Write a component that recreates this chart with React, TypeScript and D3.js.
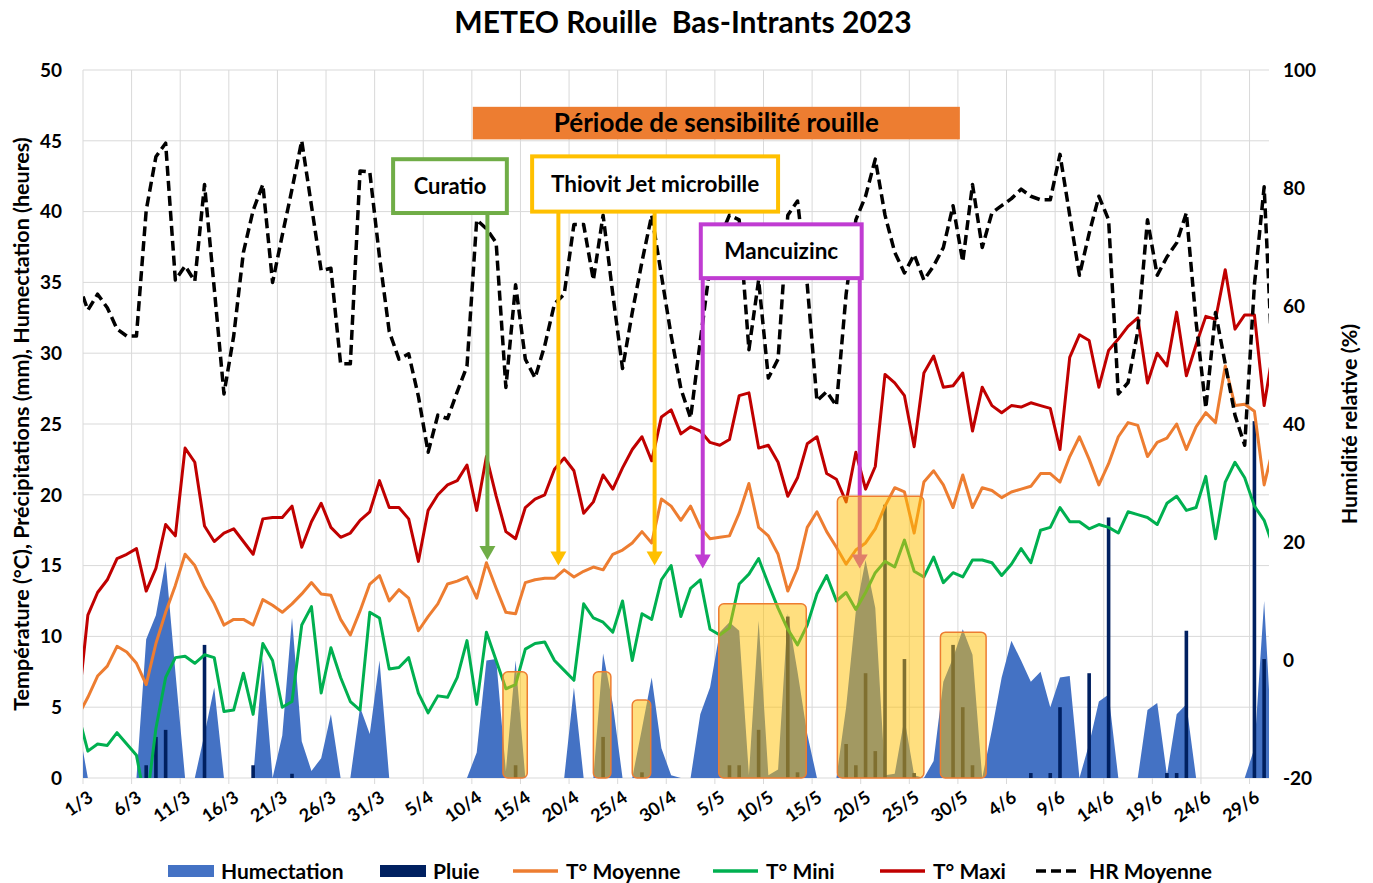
import React, { useEffect, useRef } from "react";
import * as d3 from "d3";

// daily series, first value = 28/2, last value = 1/7
const tMax = [
  5.0,
  11.5, 13.1, 14.0, 15.5, 15.8, 16.2, 13.2, 14.8, 17.9, 17.1, 23.3, 22.3, 17.8, 16.7, 17.3, 17.6, 16.7, 15.8, 18.3, 18.4, 18.4, 19.2, 16.3, 18.1, 19.4, 17.7, 17.0, 17.3, 18.2, 18.8, 21.0,
  19.1, 19.1, 18.3, 15.3, 18.9, 20.0, 20.7, 21.0, 22.1, 18.9, 22.7, 19.9, 17.4, 16.9, 19.1, 19.7, 20.0, 21.8, 22.6, 21.7, 18.7, 19.5, 21.4, 20.4, 21.9, 23.2, 24.1, 22.4, 25.5, 26.0,
  24.3, 24.8, 24.5, 23.7, 23.5, 23.9, 27.0, 27.2, 23.3, 23.5, 22.3, 19.9, 21.2, 23.6, 24.1, 21.5, 21.1, 19.5, 23.0, 20.4, 22.0, 28.5, 27.9, 27.0, 23.4, 28.6, 29.8, 27.6, 27.7, 28.6, 24.5,
  27.6, 26.3, 25.8, 26.3, 26.2, 26.5, 26.3, 26.1, 23.2, 29.7, 31.3, 30.9, 27.6, 30.2, 31.0, 31.9, 32.5, 27.9, 30.0, 29.1, 32.9, 28.4, 30.6, 32.6, 32.4, 35.9, 31.7, 32.7, 32.7, 26.3,
  30.5,
];
const tMoy = [
  4.4,
  5.7, 7.2, 7.9, 9.3, 8.9, 8.1, 6.6, 9.5, 11.7, 13.6, 15.8, 15.0, 13.5, 12.3, 10.8, 11.2, 11.2, 10.8, 12.6, 12.2, 11.7, 12.3, 13.0, 13.8, 13.0, 12.9, 11.2, 10.1, 11.8, 13.7, 14.3,
  12.5, 13.3, 12.7, 10.4, 11.4, 12.3, 13.7, 13.9, 14.2, 12.7, 15.2, 13.4, 11.7, 11.6, 13.8, 14.0, 14.1, 14.1, 14.7, 14.2, 14.6, 14.9, 14.7, 15.8, 16.1, 16.6, 17.4, 16.6, 19.7, 19.2,
  18.2, 19.2, 17.7, 16.9, 17.0, 17.1, 18.7, 20.8, 17.7, 17.1, 15.8, 13.2, 14.8, 17.7, 18.8, 17.4, 16.3, 15.1, 16.1, 16.6, 17.6, 19.2, 20.5, 20.2, 17.3, 20.9, 21.7, 20.7, 19.1, 21.4, 19.1,
  20.5, 20.3, 19.8, 20.2, 20.4, 20.6, 21.5, 21.5, 20.9, 22.7, 24.1, 22.5, 20.7, 22.2, 24.1, 25.1, 24.9, 22.7, 23.7, 24.0, 25.0, 23.2, 24.8, 25.8, 25.1, 29.1, 26.3, 26.4, 25.9, 20.7,
  23.5,
];
const tMin = [
  4.5,
  1.9, 2.4, 2.3, 3.2, 2.4, 1.6, -2.0, 3.5, 7.1, 8.5, 8.6, 8.1, 8.7, 8.5, 4.7, 4.8, 7.4, 4.5, 9.5, 8.3, 5.0, 5.4, 10.8, 12.1, 6.0, 9.2, 7.1, 5.4, 4.8, 11.7, 11.3,
  7.7, 7.8, 8.5, 6.0, 4.6, 5.8, 5.7, 7.1, 9.7, 5.2, 10.3, 8.3, 6.3, 6.6, 9.1, 9.5, 9.6, 8.3, 7.6, 6.9, 12.3, 11.3, 11.0, 10.3, 12.5, 8.3, 11.6, 11.2, 14.0, 15.0,
  11.4, 13.4, 14.0, 10.5, 10.1, 10.6, 13.7, 14.4, 15.5, 13.7, 12.0, 10.5, 9.4, 10.8, 13.0, 14.3, 12.5, 13.1, 11.9, 13.1, 14.5, 15.3, 14.9, 16.8, 14.6, 14.2, 15.6, 13.8, 14.5, 14.2, 15.4,
  15.4, 15.2, 14.3, 15.1, 16.2, 15.2, 17.5, 17.7, 19.1, 18.1, 18.1, 17.6, 17.9, 17.7, 17.3, 18.8, 18.6, 18.4, 17.9, 19.4, 19.9, 18.9, 19.1, 21.3, 16.9, 20.9, 22.3, 21.2, 19.2, 18.2,
  16.2,
];
const hrMoy = [
  64,
  59.3, 62.0, 59.7, 56.1, 54.9, 54.9, 76.2, 85.3, 87.6, 64.4, 66.8, 64.2, 80.6, 63, 45.1, 54.9, 69.1, 76.2, 80.6, 64.0, 72, 79.8, 88.0, 77, 66.0, 66.4, 50.2, 50.2, 82.9, 82.7, 68.3,
  55.7, 51.0, 51.9, 44.7, 35.2, 41.5, 40.9, 45.5, 49.8, 74.6, 73.1, 70.7, 46.2, 63.6, 51.0, 47.8, 53.3, 60.4, 62.0, 73.8, 73.8, 64.4, 75.4, 62.0, 49.4, 58.9, 67.5, 75.4, 65.2, 55,
  46, 41, 54.1, 66.8, 71.5, 75.4, 74.6, 52.6, 64.4, 47.8, 51.0, 75.4, 77.8, 63.6, 43.9, 45.5, 43.1, 62.0, 74.6, 78.6, 84.9, 75.4, 69.1, 65.6, 68.7, 64.4, 66.8, 69.9, 77.0, 67.5, 80.6,
  69.9, 75.8, 77.0, 78.2, 79.8, 78.6, 78.0, 78.0, 85.7, 75.4, 65.2, 72.3, 78.6, 74.6, 45.1, 47.0, 55.7, 74.6, 65.2, 68.3, 70.7, 75.8, 57.3, 42.7, 58.9, 50.2, 41.5, 36.4, 63.6, 80.2,
  45,
];
const humectation = [
  3.8,
  0, 0, 0, 0, 0, 0, 9.8, 11.5, 15.3, 7.5, 0, 0, 3.1, 6.4, 0, 0, 0, 0, 8.5, 0, 3.0, 11.3, 2.6, 0.5, 1.4, 4.5, 0, 0, 5.0, 3.1, 8.3,
  0, 0, 0, 0, 0, 0, 0, 0, 0, 1.8, 8.3, 8.4, 0.5, 8.3, 0, 0, 0, 0, 0, 6.4, 0, 0, 8.8, 5.2, 0, 0, 3.5, 7.1, 2.1, 0.2,
  0, 0, 4.5, 6.4, 10.3, 11.0, 10.4, 0.2, 11.1, 0.2, 0.6, 11.6, 7.5, 3.1, 0, 0, 0, 5.0, 11.8, 15.4, 12.0, 0.2, 0.3, 4.2, 0.2, 0, 1.2, 6.8, 8.5, 10.5, 8.7,
  0, 3.4, 7.1, 9.7, 8.3, 6.8, 7.5, 5.0, 7.1, 7.2, 0, 2.4, 5.4, 5.9, 0, 0, 0, 4.8, 5.3, 0.2, 4.5, 5.2, 0, 0, 0, 0, 0, 0, 2.1, 12.5,
  0,
];
const pluie = [
  0,
  0, 0, 0, 0, 0, 0, 0.9, 2.9, 3.4, 0, 0, 0, 9.4, 0, 0, 0, 0, 0.9, 0, 0, 0, 0.3, 0, 0, 0, 0, 0, 0, 0, 0, 0,
  0, 0, 0, 0, 0, 0, 0, 0, 0, 0, 0, 0, 0, 0.9, 0, 0, 0, 0, 0, 0, 0, 0, 2.9, 0, 0, 0, 0.4, 0, 0, 0,
  0, 0, 0, 0, 0, 0.9, 0.9, 0, 3.4, 0, 0, 11.4, 0.4, 0, 0, 0, 0, 2.4, 0.9, 7.4, 1.9, 19.3, 0, 8.4, 0.35, 0, 0, 0, 9.4, 5.0, 0.9,
  0, 0, 0, 0, 0, 0.35, 0, 0.35, 5.0, 0, 0, 7.4, 0, 18.4, 0, 0, 0, 0, 0, 0.35, 0.35, 10.4, 0, 0, 0, 0, 0, 0, 25.2, 8.4,
  0,
];

const xTickLabels = [
  "1/3", "6/3", "11/3", "16/3", "21/3", "26/3", "31/3", "5/4", "10/4", "15/4", "20/4", "25/4", "30/4",
  "5/5", "10/5", "15/5", "20/5", "25/5", "30/5", "4/6", "9/6", "14/6", "19/6", "24/6", "29/6",
];
const leftTicks = [0, 5, 10, 15, 20, 25, 30, 35, 40, 45, 50];
const rightTicks = [-20, 0, 20, 40, 60, 80, 100];

// treatment windows (day offsets from 1/3, value of top edge)
const windows = [
  { from: 43.2, to: 45.7, top: 7.5 },
  { from: 52.5, to: 54.3, top: 7.5 },
  { from: 56.5, to: 58.4, top: 5.5 },
  { from: 65.4, to: 74.4, top: 12.3 },
  { from: 77.6, to: 86.5, top: 19.9 },
  { from: 88.2, to: 92.9, top: 10.3 },
];

const treatments = [
  { label: "Curatio", color: "#70AD47", from: 31.9, to: 43.6, top: 43.7, bottom: 39.9, arrows: [41.6], tip: 15.4, size: 22 },
  { label: "Thiovit Jet microbille", color: "#FFC000", from: 46.2, to: 71.5, top: 43.9, bottom: 40.0, arrows: [48.9, 58.8], tip: 15.0, size: 22.5 },
  { label: "Mancuizinc", color: "#C03CD2", from: 63.55, to: 80.1, top: 39.1, bottom: 35.3, arrows: [63.75, 79.9], tip: 14.8, size: 22.5 },
];

const FONT = "Lato, 'Open Sans', sans-serif";

function App() {
  const ref = useRef(null);

  function drawChart() {
    const svg = d3.select(ref.current);
    svg.selectAll("*").remove();

    const [left, right, top, bottom] = [83, 1269, 70, 778];
    const x = d3
      .scaleUtc()
      .domain([new Date(Date.UTC(2023, 2, 1)), new Date(Date.UTC(2023, 6, 1))])
      .range([left, right]);
    const y = d3.scaleLinear().domain([0, 50]).range([bottom, top]);
    const yR = d3.scaleLinear().domain([-20, 100]).range([bottom, top]);
    const dayX = (k: number) => x(new Date(Date.UTC(2023, 1, 28 + k, 12)));
    const offX = (d: number) => x(new Date(Date.UTC(2023, 2, 1) + d * 86400000));

    svg.append("rect").attr("width", 1373).attr("height", 883).attr("fill", "#fff");

    svg
      .append("defs")
      .append("clipPath")
      .attr("id", "plot-clip")
      .append("rect")
      .attr("x", left)
      .attr("y", top - 2)
      .attr("width", right - left)
      .attr("height", bottom - top + 2);

    // grid
    const grid = svg.append("g").attr("stroke", "#D9D9D9").attr("stroke-width", 1);
    grid
      .selectAll("line.h")
      .data(leftTicks)
      .join("line")
      .attr("x1", left)
      .attr("x2", right)
      .attr("y1", (d) => y(d))
      .attr("y2", (d) => y(d));
    grid
      .selectAll("line.v")
      .data(xTickLabels)
      .join("line")
      .attr("x1", (_, i) => offX(i * 5))
      .attr("x2", (_, i) => offX(i * 5))
      .attr("y1", top)
      .attr("y2", bottom + 6);

    const plot = svg.append("g").attr("clip-path", "url(#plot-clip)");

    // humectation area
    const area = d3
      .area<number>()
      .x((_, i) => dayX(i))
      .y0(y(0))
      .y1((d) => y(d));
    plot.append("path").datum(humectation).attr("d", area).attr("fill", "#4472C4");

    // pluie bars
    plot
      .selectAll("rect.pluie")
      .data(pluie)
      .join("rect")
      .attr("x", (_, i) => dayX(i) - 1.8)
      .attr("width", 3.6)
      .attr("y", (d) => y(d))
      .attr("height", (d) => y(0) - y(d))
      .attr("fill", "#002060");

    const line = d3
      .line<number>()
      .x((_, i) => dayX(i))
      .y((d) => y(d));
    const lineR = d3
      .line<number>()
      .x((_, i) => dayX(i))
      .y((d) => yR(d));

    const series = [
      { data: tMoy, color: "#ED7D31" },
      { data: tMin, color: "#00B050" },
      { data: tMax, color: "#C00000" },
    ];
    series.forEach((s) => {
      plot
        .append("path")
        .datum(s.data)
        .attr("d", line)
        .attr("fill", "none")
        .attr("stroke", s.color)
        .attr("stroke-width", 3)
        .attr("stroke-linejoin", "round");
    });
    plot
      .append("path")
      .datum(hrMoy)
      .attr("d", lineR)
      .attr("fill", "none")
      .attr("stroke", "#000")
      .attr("stroke-width", 3.5)
      .attr("stroke-dasharray", "10,5")
      .attr("stroke-linejoin", "round");

    // sensitivity banner
    svg
      .append("rect")
      .attr("x", offX(40.1))
      .attr("y", y(47.4))
      .attr("width", offX(90.2) - offX(40.1))
      .attr("height", y(45.1) - y(47.4))
      .attr("fill", "#ED7D31");
    svg
      .append("text")
      .attr("x", (offX(40.1) + offX(90.2)) / 2)
      .attr("y", (y(47.4) + y(45.1)) / 2)
      .attr("dy", "0.36em")
      .attr("text-anchor", "middle")
      .attr("font-family", FONT)
      .attr("font-weight", 700)
      .attr("font-size", 26)
      .text("Période de sensibilité rouille");

    // treatment arrows and boxes
    treatments.forEach((t) => {
      const g = svg.append("g");
      t.arrows.forEach((a) => {
        const ax = offX(a);
        g.append("line")
          .attr("x1", ax)
          .attr("x2", ax)
          .attr("y1", y(t.bottom))
          .attr("y2", y(t.tip) - 12)
          .attr("stroke", t.color)
          .attr("stroke-width", 4);
        g.append("path")
          .attr(
            "d",
            `M${ax - 8},${y(t.tip) - 14}L${ax + 8},${y(t.tip) - 14}L${ax},${y(t.tip)}Z`
          )
          .attr("fill", t.color);
      });
      g.append("rect")
        .attr("x", offX(t.from))
        .attr("y", y(t.top))
        .attr("width", offX(t.to) - offX(t.from))
        .attr("height", y(t.bottom) - y(t.top))
        .attr("fill", "#fff")
        .attr("stroke", t.color)
        .attr("stroke-width", 4);
      g.append("text")
        .attr("x", (offX(t.from) + offX(t.to)) / 2)
        .attr("y", (y(t.top) + y(t.bottom)) / 2)
        .attr("dy", "0.36em")
        .attr("text-anchor", "middle")
        .attr("font-family", FONT)
        .attr("font-weight", 700)
        .attr("font-size", t.size)
        .text(t.label);
    });

    // highlighted windows
    svg
      .append("g")
      .selectAll("rect")
      .data(windows)
      .join("rect")
      .attr("x", (d) => offX(d.from))
      .attr("y", (d) => y(d.top))
      .attr("width", (d) => offX(d.to) - offX(d.from))
      .attr("height", (d) => y(0) - y(d.top))
      .attr("rx", 5)
      .attr("fill", "#FFC000")
      .attr("fill-opacity", 0.5)
      .attr("stroke", "#ED7D31")
      .attr("stroke-width", 1.5);

    // axes labels
    svg
      .append("g")
      .attr("font-family", FONT)
      .attr("font-weight", 700)
      .selectAll("text")
      .data(leftTicks)
      .join("text")
      .attr("x", 62)
      .attr("y", (d) => y(d))
      .attr("dy", "0.36em")
      .attr("text-anchor", "end")
      .attr("font-size", 19)
      .text((d) => d);
    svg
      .append("g")
      .attr("font-family", FONT)
      .attr("font-weight", 700)
      .selectAll("text")
      .data(rightTicks)
      .join("text")
      .attr("x", 1283)
      .attr("y", (d) => yR(d))
      .attr("dy", "0.36em")
      .attr("font-size", 19)
      .text((d) => d);
    svg
      .append("g")
      .attr("font-family", FONT)
      .attr("font-weight", 700)
      .selectAll("text")
      .data(xTickLabels)
      .join("text")
      .attr("transform", (_, i) => `translate(${offX(i * 5) + 4},${bottom + 12}) rotate(-35)`)
      .attr("dy", "0.7em")
      .attr("text-anchor", "end")
      .attr("font-size", 18)
      .text((d) => d);

    svg
      .append("text")
      .attr("x", 683)
      .attr("y", 33)
      .attr("text-anchor", "middle")
      .attr("font-family", FONT)
      .attr("font-weight", 700)
      .attr("font-size", 30)
      .style("white-space", "pre")
      .text("METEO Rouille  Bas-Intrants 2023");

    svg
      .append("text")
      .attr("transform", `translate(21,${(top + bottom) / 2}) rotate(-90)`)
      .attr("dy", "0.36em")
      .attr("text-anchor", "middle")
      .attr("font-family", FONT)
      .attr("font-weight", 700)
      .attr("font-size", 21.5)
      .text("Température (°C), Précipitations (mm), Humectation (heures)");
    svg
      .append("text")
      .attr("transform", `translate(1349,${(top + bottom) / 2}) rotate(-90)`)
      .attr("dy", "0.36em")
      .attr("text-anchor", "middle")
      .attr("font-family", FONT)
      .attr("font-weight", 700)
      .attr("font-size", 21.5)
      .text("Humidité relative (%)");

    // legend
    const legendItems = [
      { label: "Humectation", kind: "rect", color: "#4472C4", x: 168 },
      { label: "Pluie", kind: "rect", color: "#002060", x: 380 },
      { label: "T° Moyenne", kind: "line", color: "#ED7D31", x: 513 },
      { label: "T° Mini", kind: "line", color: "#00B050", x: 713 },
      { label: "T° Maxi", kind: "line", color: "#C00000", x: 880 },
      { label: "HR Moyenne", kind: "dash", color: "#000", x: 1036 },
    ];
    const ly = 871;
    const lg = svg.append("g");
    legendItems.forEach((it) => {
      if (it.kind === "rect") {
        lg.append("rect")
          .attr("x", it.x)
          .attr("y", ly - 6)
          .attr("width", 46)
          .attr("height", 12)
          .attr("fill", it.color);
      } else {
        lg.append("line")
          .attr("x1", it.x)
          .attr("x2", it.x + 45)
          .attr("y1", ly)
          .attr("y2", ly)
          .attr("stroke", it.color)
          .attr("stroke-width", 3.5)
          .attr("stroke-dasharray", it.kind === "dash" ? "10,5" : null);
      }
      lg.append("text")
        .attr("x", it.x + 53)
        .attr("y", ly)
        .attr("dy", "0.36em")
        .attr("font-family", FONT)
        .attr("font-weight", 700)
        .attr("font-size", 21)
        .attr("fill", "#000")
        .text(it.label);
    });
  }

  useEffect(() => {
    drawChart();
  }, []);

  return (
    <svg
      ref={ref}
      width={1373}
      height={883}
      style={{ position: "absolute", left: 0, top: 0, display: "block" }}
    ></svg>
  );
}

export default App;
